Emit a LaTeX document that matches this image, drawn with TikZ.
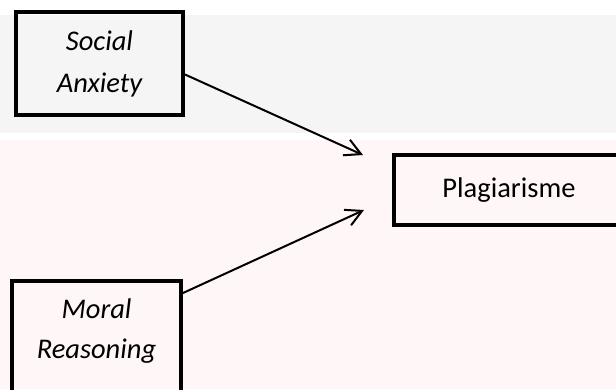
\documentclass[tikz,border=0pt]{standalone}
\usepackage{fontspec}
\setmainfont{Carlito}
\usepackage{tikz}
\usetikzlibrary{arrows.meta}

\begin{document}
\begin{tikzpicture}[x=1pt,y=-1pt,
  varbox/.style={draw,line width=4pt,inner sep=0pt,align=center,
    font=\fontsize{28.5}{41}\selectfont},
  vartext/.style={align=center,inner sep=0pt,font=\fontsize{28.5}{40}\selectfont\itshape},
  pfeil/.style={line width=2pt,-{Straight Barb[length=16pt,width=17pt]}}]
\useasboundingbox (0,0) rectangle (616,389);
\clip (0,0) rectangle (616,389);
% Hintergrund
\fill[black!4] (0,15) rectangle (616,133);
\fill[red!3] (0,140) rectangle (616,389);
% Variablen
\node[varbox,font=\fontsize{28.5}{42}\selectfont\itshape,minimum width=167pt,minimum height=103pt] (social) at (99.5,63.5) {Social\\Anxiety};
\node[varbox,minimum width=169pt,minimum height=120pt,anchor=north] (moral) at (96.5,279) {};
\node[vartext] (moraltext) at ([yshift=-52pt]moral.north) {Moral\\Reasoning};
\node[varbox,minimum width=230pt,minimum height=70pt] (plag) at (509,190) {Plagiarisme};
% Pfeile
\coordinate (inA) at ([xshift=-29pt,yshift=-2pt]plag.north west);
\coordinate (inB) at ([xshift=-28pt,yshift=-20pt]plag.west);
\draw[pfeil] ([yshift=-11pt]social.east) -- (inA);
\draw[pfeil] ([yshift=-14pt]moral.north east) -- (inB);
\end{tikzpicture}
\end{document}
